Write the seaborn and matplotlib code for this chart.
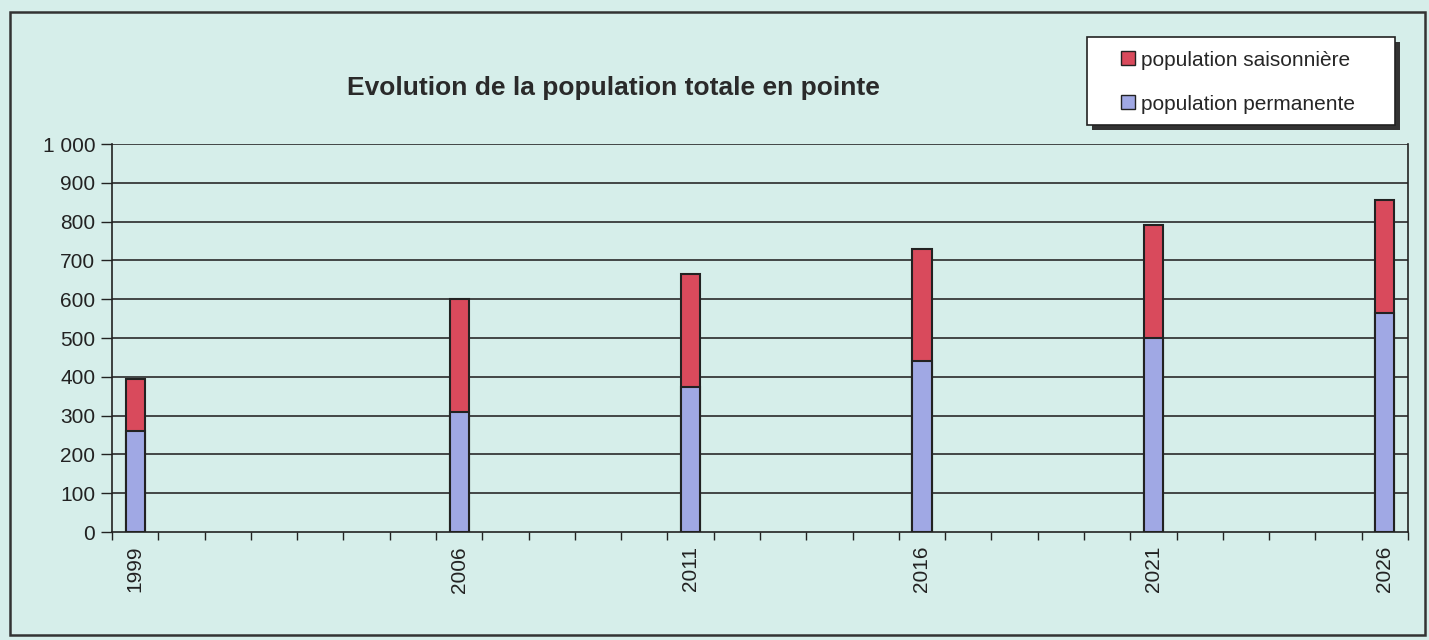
import matplotlib.pyplot as plt
import matplotlib.patches as patches
import numpy as np
import pandas as pd
import seaborn as sns

years = [1999, 2006, 2011, 2016, 2021, 2026]
permanente = [260, 310, 375, 440, 500, 565]
saisonniere = [135, 290, 290, 290, 290, 290]
yticks = list(range(0, 1001, 100))
ytick_labels = ["0", "100", "200", "300", "400", "500", "600", "700", "800", "900", "1 000"]

bg = "#d6eeea"
red = "#d94a5c"
blue = "#a0a8e4"

sns.set_theme(style="white")
plt.rcParams["font.family"] = ["Liberation Sans", "DejaVu Sans"]

df = pd.DataFrame({
    "annee": years,
    "permanente": permanente,
    "total": np.array(permanente) + np.array(saisonniere),
})

W, H = 1429, 640
fig = plt.figure(figsize=(W / 100, H / 100), dpi=100, facecolor=bg)
ax = fig.add_axes((112 / W, 108 / H, 1296 / W, 388 / H))
ax.set_facecolor(bg)

# barres empilées : total en rouge puis permanente en bleu par-dessus
sns.barplot(data=df, x="annee", y="total", native_scale=True, width=0.083,
            color=red, saturation=1, edgecolor="#222222", linewidth=1.5, ax=ax, zorder=3)
sns.barplot(data=df, x="annee", y="permanente", native_scale=True, width=0.083,
            color=blue, saturation=1, edgecolor="#222222", linewidth=1.5, ax=ax, zorder=4)

ax.set_xlim(1998.5, 2026.5)
ax.set_ylim(0, 1000)
ax.set_yticks(yticks)
ax.set_yticklabels(ytick_labels, fontsize=15, color="#222222")
ax.set_xticks(years)
ax.set_xticklabels([str(y) for y in years], rotation=90, fontsize=15, color="#222222")
ax.set_xticks(np.arange(1998.5, 2027, 1), minor=True)
ax.tick_params(axis="x", which="major", length=0, pad=10)
ax.tick_params(axis="x", which="minor", bottom=True, length=6, width=1, color="#222222", direction="out")
ax.tick_params(axis="y", left=True, length=8, width=1, color="#222222", direction="out", pad=4)
ax.set_xlabel("")
ax.set_ylabel("")

# grille horizontale
for v in yticks[1:]:
    ax.axhline(v, color="#2a2a2a", linewidth=1.2, zorder=1)

for side in ["left", "bottom", "right"]:
    ax.spines[side].set_visible(True)
    ax.spines[side].set_color("#222222")
    ax.spines[side].set_linewidth(1.2)
ax.spines["top"].set_visible(False)

fig.text(613 / W, 1 - 88 / H, "Evolution de la population totale en pointe",
         ha="center", va="center", fontsize=19, fontweight="bold", color="#2a2a2a")

# boîte de légende avec ombre (dessinée à la main pour avoir les marges d'Excel)
bx0, by0, bx1, by1 = 1087, 37, 1395, 125
shadow = patches.Rectangle(((bx0 + 5) / W, 1 - (by1 + 5) / H), (bx1 - bx0) / W, (by1 - by0) / H,
                           transform=fig.transFigure, facecolor="#333333", edgecolor="none")
box = patches.Rectangle((bx0 / W, 1 - by1 / H), (bx1 - bx0) / W, (by1 - by0) / H,
                        transform=fig.transFigure, facecolor="white", edgecolor="#222222", linewidth=1.2)
fig.patches.extend([shadow, box])

handles = [
    patches.Patch(facecolor=red, edgecolor="#222222", label="population saisonnière"),
    patches.Patch(facecolor=blue, edgecolor="#222222", label="population permanente"),
]
leg = fig.legend(handles=handles, loc="center left", bbox_to_anchor=(1121 / W, 1 - 82 / H),
                 fontsize=15, frameon=False, handlelength=0.65, handleheight=0.65,
                 handletextpad=0.3, labelspacing=1.2, borderpad=0, borderaxespad=0)

# cadre du graphique
frame = patches.Rectangle((10 / W, 5 / H), 1415 / W, 623 / H, transform=fig.transFigure,
                          fill=False, edgecolor="#333333", linewidth=1.8)
fig.patches.append(frame)

fig.savefig("out.png", dpi=100, facecolor=bg)
